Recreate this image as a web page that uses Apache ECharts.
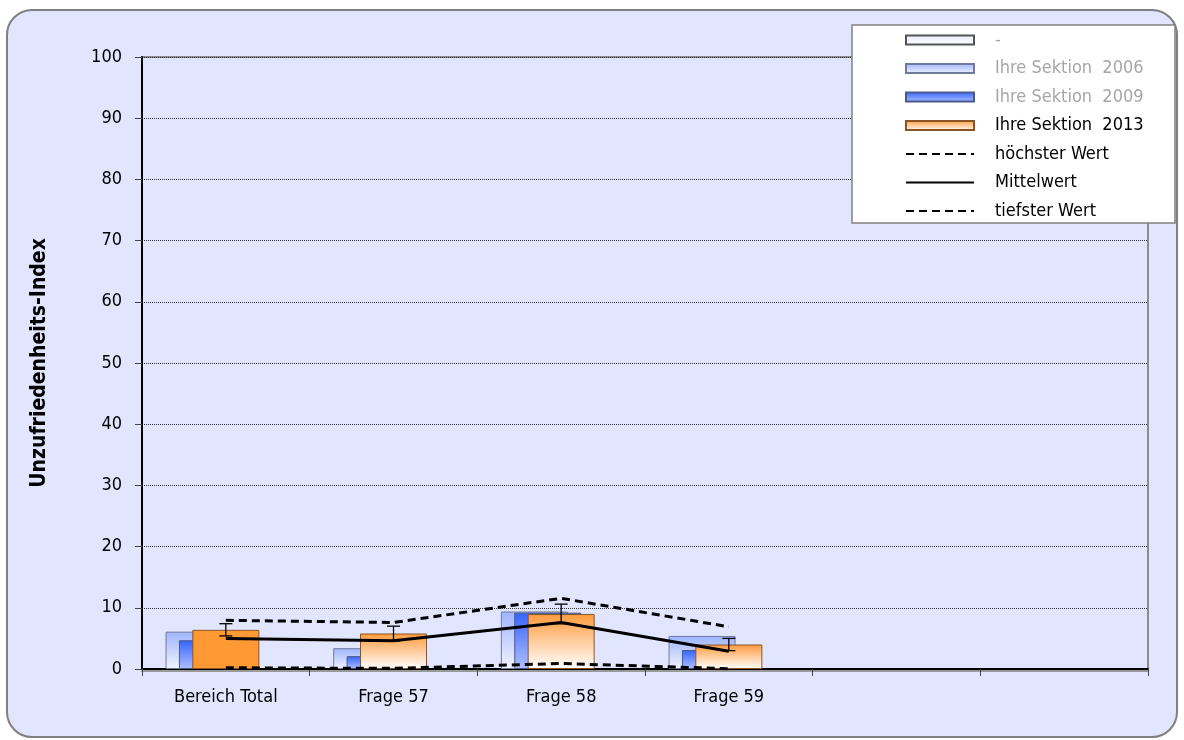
<!DOCTYPE html>
<html>
<head>
<meta charset="utf-8">
<script src="https://cdn.jsdelivr.net/npm/echarts@6/dist/echarts.min.js"></script>
<style>
html,body{margin:0;padding:0;background:#fff;}
#chart{width:1184px;height:740px;}
</style>
</head>
<body>
<div id="chart"></div>
<script>
const categories = ['Bereich Total', 'Frage 57', 'Frage 58', 'Frage 59', '', ''];
const yTicks = [0, 10, 20, 30, 40, 50, 60, 70, 80, 90, 100];
const placeholder = [null, null, null, null, null, null];
const sektion2006 = [6.1, 3.4, 9.4, 5.4, null, null];
const sektion2009 = [4.7, 2.1, 9.2, 3.1, null, null];
const sektion2013 = [6.4, 5.8, 9.0, 4.0, null, null];
const error2013 = [1.0, 1.2, 1.6, 1.0, null, null];
const hoechsterWert = [7.95, 7.6, 11.55, 6.9, null, null];
const mittelwert = [5.0, 4.6, 7.6, 2.9, null, null];
const tiefsterWert = [0.2, 0.1, 0.9, 0.05, null, null];

const FONT = "'DejaVu Sans Condensed','Liberation Sans Narrow',sans-serif";
const grad = (top, bottom) => ({type:'linear', x:0, y:0, x2:0, y2:1,
  colorStops:[{offset:0,color:top},{offset:1,color:bottom}]});

const chart = echarts.init(document.getElementById('chart'), null, {renderer:'canvas'});

const orangeData = sektion2013.map((v, i) => i === 0
  ? {value: v, itemStyle: {color: '#FF9933'}}
  : v);

const hideDot = {opacity: 0};

const option = {
  animation: false,
  backgroundColor: '#ffffff',
  textStyle: {fontFamily: FONT},
  graphic: [
    {type:'rect', z:-10, shape:{x:7, y:10, width:1170, height:727, r:25},
     style:{fill:'#E1E6FE', stroke:'#7f7f7f', lineWidth:2}},
    {type:'rect', z:3, shape:{x:852, y:25, width:323, height:198},
     style:{fill:'#ffffff', stroke:'#808080', lineWidth:1.5}}
  ],
  grid: {left:142, right:36, top:57, bottom:71, show:true,
         borderColor:'#8c8c8c', borderWidth:2, backgroundColor:'transparent'},
  legend: {
    orient:'vertical', left:905, top:31, padding:0, z:6,
    itemWidth:68, itemHeight:9, itemGap:10.5,
    textStyle:{fontFamily:FONT, fontSize:18, color:'#000', lineHeight:18, padding:[0,0,0,16]},
    data:[
      {name:'-', icon:'rect', textStyle:{color:'#a6a6a6'}},
      {name:'Ihre Sektion  2006', icon:'rect', textStyle:{color:'#a6a6a6'}},
      {name:'Ihre Sektion  2009', icon:'rect', textStyle:{color:'#a6a6a6'}},
      {name:'Ihre Sektion  2013', icon:'rect'},
      {name:'höchster Wert', itemStyle: hideDot},
      {name:'Mittelwert', itemStyle: hideDot},
      {name:'tiefster Wert', itemStyle: hideDot}
    ]
  },
  xAxis: {
    type:'category', data:categories, boundaryGap:true,
    axisLine:{lineStyle:{color:'#000', width:2, shadowColor:'#999', shadowOffsetY:2}},
    axisTick:{show:true, length:7, lineStyle:{color:'#444'}},
    axisLabel:{interval:0, fontFamily:FONT, fontSize:18, color:'#000', margin:19},
    splitLine:{show:false}
  },
  yAxis: {
    type:'value', min:yTicks[0], max:yTicks[yTicks.length-1], interval:10,
    name:'Unzufriedenheits-Index', nameLocation:'middle', nameGap:92,
    nameTextStyle:{fontFamily:FONT, fontSize:21, fontWeight:'bold', color:'#000'},
    axisLine:{show:true, lineStyle:{color:'#000', width:2}},
    axisTick:{show:true, length:7, lineStyle:{color:'#444'}},
    axisLabel:{fontFamily:FONT, fontSize:18, color:'#000', margin:20},
    splitLine:{show:true, lineStyle:{color:'#333', width:1, type:[1,1]}}
  },
  series: [
    {name:'Ihre Sektion  2006', type:'bar', data:sektion2006, barWidth:67, barGap:'-80%',
     itemStyle:{color:grad('#9DB4FF','#F2F4FF'), borderColor:'#6f7c99', borderWidth:1}},
    {name:'Ihre Sektion  2009', type:'bar', data:sektion2009, barWidth:67, barGap:'-80%',
     itemStyle:{color:grad('#3563FF','#AFC0FF'), borderColor:'#4a5a88', borderWidth:1}},
    {name:'Ihre Sektion  2013', type:'bar', data:orangeData, barWidth:67, barGap:'-80%',
     itemStyle:{color:grad('#FF9A3C','#FFFFFF'), borderColor:'#8a5424', borderWidth:1}},
    {name:'-', type:'bar', data:placeholder, barWidth:67, barGap:'-80%',
     itemStyle:{color:grad('#E8ECFF','#FFFFFF'), borderColor:'#555', borderWidth:1}},
    {name:'pad', type:'bar', data:placeholder, barWidth:67, barGap:'-80%', legendHoverLink:false},
    {name:'error2013', type:'custom', z:5,
     data: sektion2013.map((v,i)=> v==null ? null : [i, v, error2013[i]]),
     renderItem: (params, api) => {
       const x = api.value(0), v = api.value(1), e = api.value(2);
       const top = api.coord([x, v + e]);
       const bot = api.coord([x, v - e]);
       const hw = 6.5;
       const st = {stroke:'#000', lineWidth:1.3};
       return {type:'group', children:[
         {type:'line', shape:{x1:top[0], y1:top[1], x2:bot[0], y2:bot[1]}, style:st},
         {type:'line', shape:{x1:top[0]-hw, y1:top[1], x2:top[0]+hw, y2:top[1]}, style:st},
         {type:'line', shape:{x1:bot[0]-hw, y1:bot[1], x2:bot[0]+hw, y2:bot[1]}, style:st}
       ]};
     }},
    {name:'höchster Wert', type:'line', data:hoechsterWert, symbol:'none', z:6,
     lineStyle:{color:'#000', width:3, type:[8,5]}, itemStyle:{color:'#000'}},
    {name:'Mittelwert', type:'line', data:mittelwert, symbol:'none', z:6,
     lineStyle:{color:'#000', width:3}, itemStyle:{color:'#000'}},
    {name:'tiefster Wert', type:'line', data:tiefsterWert, symbol:'none', z:6,
     lineStyle:{color:'#000', width:3, type:[8,5]}, itemStyle:{color:'#000'}}
  ]
};
chart.setOption(option);
</script>
</body>
</html>
